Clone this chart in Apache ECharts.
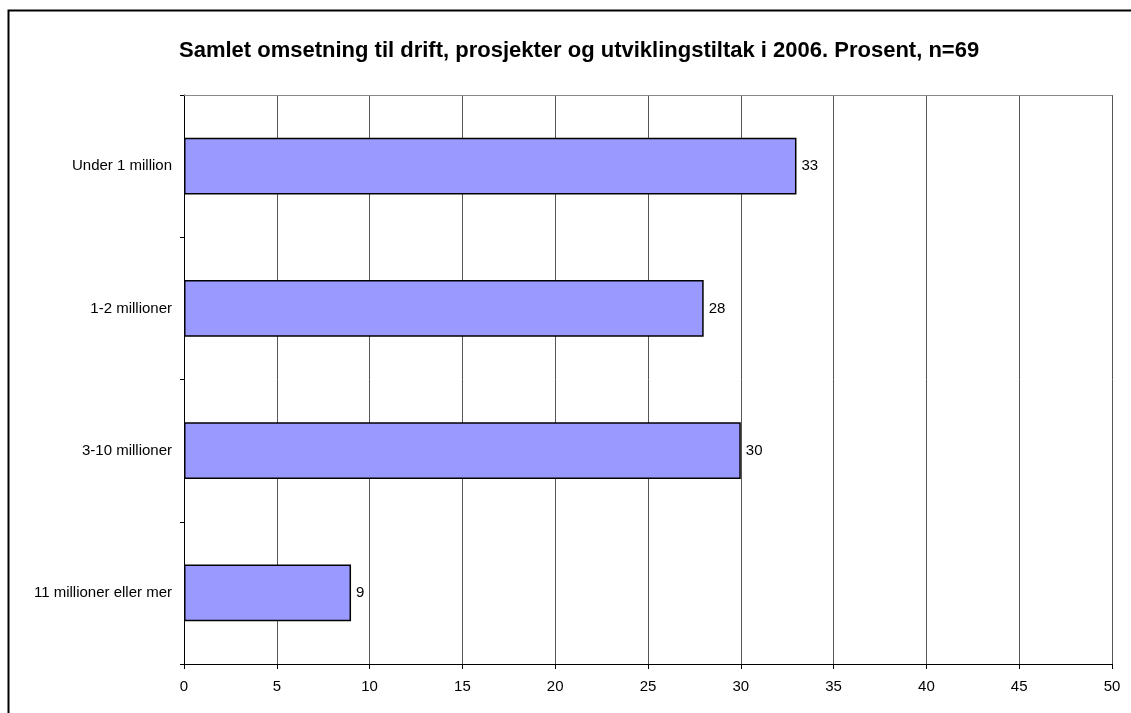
<!DOCTYPE html>
<html>
<head>
<meta charset="utf-8">
<script src="https://cdn.jsdelivr.net/npm/echarts@6/dist/echarts.min.js"></script>
<style>html,body{margin:0;padding:0;background:#fff}#c{width:1131px;height:713px}</style>
</head>
<body>
<div id="c"></div>
<script>
const titleText = "Samlet omsetning til drift, prosjekter og utviklingstiltak i 2006. Prosent, n=69";
const categories = ["Under 1 million", "1-2 millioner", "3-10 millioner", "11 millioner eller mer"];
const values = [33, 28, 30, 9];
const xMin = 0, xMax = 50, xStep = 5;

const chart = echarts.init(document.getElementById('c'), null, {renderer: 'canvas'});
const font = 'Liberation Sans, Arial, sans-serif';
chart.setOption({
  animation: false,
  backgroundColor: '#fff',
  title: {
    text: titleText, left: 174, top: 35,
    textStyle: {fontFamily: font, fontSize: 22, fontWeight: 'bold', color: '#000'}
  },
  graphic: [{
    type: 'rect', left: 6, top: 8, silent: true,
    shape: {width: 1300, height: 900},
    style: {fill: 'none', stroke: '#000', lineWidth: 2}
  }],
  grid: {left: 184, right: 19, top: 95, bottom: 49, containLabel: false},
  xAxis: [{
    type: 'value', min: xMin, max: xMax, interval: xStep, position: 'bottom',
    axisLine: {show: true, lineStyle: {color: '#000', width: 1}},
    axisTick: {show: true, length: 5, lineStyle: {color: '#000'}},
    axisLabel: {fontFamily: font, fontSize: 15, color: '#000', margin: 15},
    splitLine: {show: true, lineStyle: {color: '#555', width: 1}}
  }, {
    type: 'value', min: xMin, max: xMax, interval: xStep, position: 'top',
    axisLine: {show: true, lineStyle: {color: '#888', width: 1}},
    axisTick: {show: false}, axisLabel: {show: false}, splitLine: {show: false}
  }],
  yAxis: {
    type: 'category', data: categories, inverse: true,
    axisLine: {show: true, onZero: false, lineStyle: {color: '#000', width: 1}},
    axisTick: {show: true, length: 4, inside: false, lineStyle: {color: '#000'}},
    axisLabel: {fontFamily: font, fontSize: 15, color: '#000', margin: 12},
    splitLine: {show: false}
  },
  series: [{
    type: 'bar', data: values, xAxisIndex: 0, barWidth: '40%',
    itemStyle: {color: '#9999FF', borderColor: '#000', borderWidth: 1.5},
    label: {show: true, position: 'right', distance: 5, fontFamily: font, fontSize: 15, color: '#000'}
  }]
});
</script>
</body>
</html>
